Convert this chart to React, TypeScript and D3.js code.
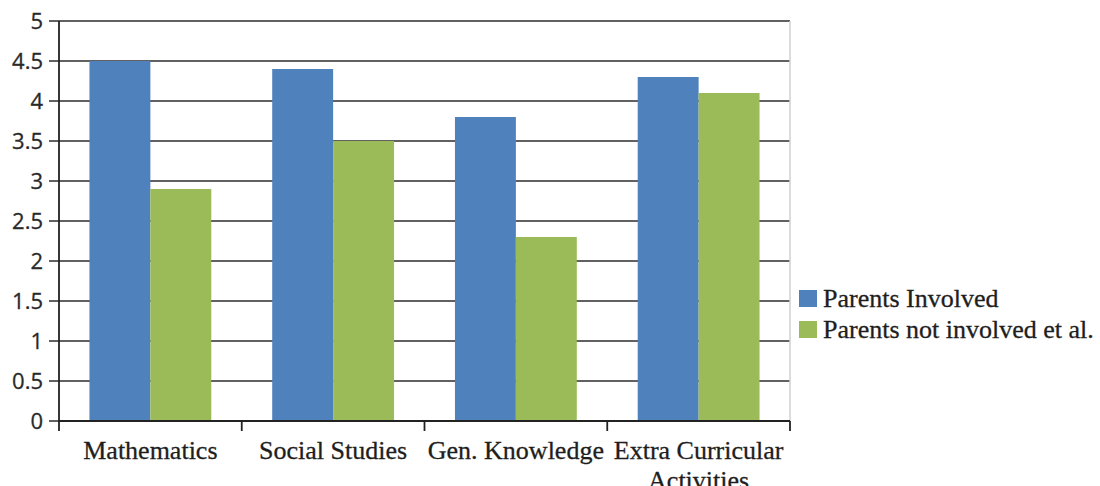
import React from "react";
import * as d3 from "d3";

const categories = ["Mathematics", "Social Studies", "Gen. Knowledge", "Extra Curricular|Activities"];
const seriesNames = ["Parents Involved", "Parents not involved et al."];
const involved = [4.5, 4.4, 3.8, 4.3];
const notInvolved = [2.9, 3.5, 2.3, 4.1];
const yTicks = [0, 0.5, 1, 1.5, 2, 2.5, 3, 3.5, 4, 4.5, 5];
const colors = ["#4F81BD", "#9BBB59"];

export default function App() {
  const W = 1100, H = 486;
  const left = 59, right = 790, top = 21, bottom = 421;
  const x = d3.scaleBand<string>().domain(categories).range([left, right]).paddingInner(0).paddingOuter(0);
  const y = d3.scaleLinear().domain([0, 5]).range([bottom, top]);
  const bw = x.bandwidth() / 3;
  const series = [involved, notInvolved];
  const ticksX = categories.map((c) => x(c) as number).concat([right]);

  return (
    <svg width={W} height={H} style={{ position: "absolute", left: 0, top: 0, background: "#fff" }}>
      {yTicks.map((t) => (
        <line key={"g" + t} x1={49} x2={right} y1={y(t)} y2={y(t)} stroke="#616161" strokeWidth={2} />
      ))}
      <line x1={right} x2={right} y1={top} y2={bottom} stroke="#d0d0d0" strokeWidth={1.5} />
      {series.map((vals, si) =>
        categories.map((c, ci) => (
          <rect
            key={si + "-" + ci}
            x={(x(c) as number) + bw * 0.5 + si * bw}
            y={y(vals[ci])}
            width={bw}
            height={bottom - y(vals[ci])}
            fill={colors[si]}
          />
        ))
      )}
      <line x1={left} x2={left} y1={top} y2={bottom + 1} stroke="#222" strokeWidth={1.8} />
      <line x1={left} x2={right} y1={bottom} y2={bottom} stroke="#222" strokeWidth={2} />
      {ticksX.map((tx, i) => (
        <line key={"tx" + i} x1={tx} x2={tx} y1={bottom} y2={bottom + 10} stroke="#222" strokeWidth={1.8} />
      ))}
      {yTicks.map((t) => (
        <text
          key={"l" + t}
          x={43}
          y={y(t)}
          dy="0.36em"
          textAnchor="end"
          fontFamily="'Open Sans', sans-serif"
          fontSize={22}
          fill="#2a2a2a"
          stroke="#2a2a2a"
          strokeWidth={0.3}
        >
          {t}
        </text>
      ))}
      {categories.map((c) => {
        const lines = c.split("|");
        const cx = (x(c) as number) + x.bandwidth() / 2;
        return (
          <text
            key={"c" + c}
            x={cx}
            y={459}
            textAnchor="middle"
            fontFamily="'Liberation Serif', 'Times New Roman', serif"
            fontSize={26}
            fill="#1e1e1e"
            stroke="#1e1e1e"
            strokeWidth={0.3}
          >
            {lines.map((ln, i) => (
              <tspan key={i} x={cx} dy={i === 0 ? 0 : 30}>
                {ln}
              </tspan>
            ))}
          </text>
        );
      })}
      {seriesNames.map((n, i) => (
        <g key={"lg" + i} transform={`translate(799, ${290 + i * 31})`}>
          <rect x={0} y={0} width={18} height={17} fill={colors[i]} />
          <text
            x={24}
            y={17}
            fontFamily="'Liberation Serif', 'Times New Roman', serif"
            fontSize={26}
            fill="#1e1e1e"
            stroke="#1e1e1e"
            strokeWidth={0.3}
          >
            {n}
          </text>
        </g>
      ))}
    </svg>
  );
}
